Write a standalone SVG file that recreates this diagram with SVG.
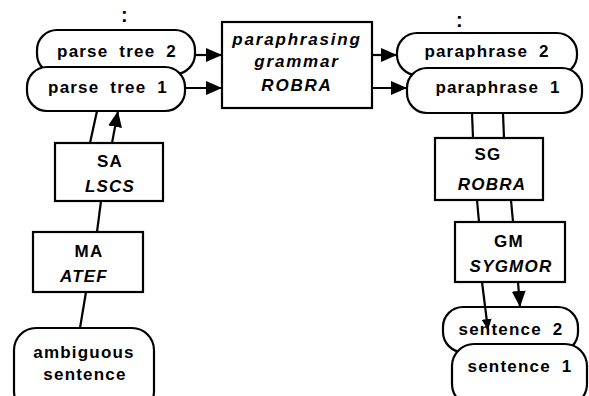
<svg xmlns="http://www.w3.org/2000/svg" width="589" height="396" viewBox="0 0 589 396">
<defs>
<style>
.box{fill:#fff;stroke:#000;stroke-width:2.2}
.t{font-family:"Liberation Sans",Arial,sans-serif;font-weight:bold;font-size:17px;letter-spacing:1.2px;word-spacing:5px;fill:#000;text-anchor:middle}
.i{font-style:italic}
.c{stroke:#000;stroke-width:2.2;fill:none}
</style>
<marker id="ah" viewBox="0 0 16 14" refX="16" refY="7" markerWidth="16" markerHeight="14" markerUnits="userSpaceOnUse" orient="auto"><path d="M0,0 L16,7 L0,14 z" fill="#000"/></marker>
<marker id="ahs" viewBox="0 0 11 10" refX="11" refY="5" markerWidth="11" markerHeight="10" markerUnits="userSpaceOnUse" orient="auto"><path d="M0,0 L11,5 L0,10 z" fill="#000"/></marker>
</defs>
<rect width="589" height="396" fill="#fff"/>
<text class="t" x="125" y="22" style="font-size:20px">:</text>
<text class="t" x="460" y="27" style="font-size:20px">:</text>
<g id="parse-tree-2"><rect class="box" x="37" y="30" width="158" height="44" rx="20"/><text class="t" x="117" y="57">parse tree 2</text></g>
<g id="parse-tree-1"><rect class="box" x="27" y="67" width="158" height="44" rx="20"/><text class="t" x="108" y="93">parse tree 1</text></g>
<g id="paraphrasing-grammar"><rect class="box" x="222" y="22" width="150" height="86"/>
<text class="t i" x="297" y="45" style="letter-spacing:1.8px">paraphrasing</text>
<text class="t i" x="297" y="67" style="letter-spacing:1.8px">grammar</text>
<text class="t i" x="297" y="91" style="letter-spacing:1.8px">ROBRA</text></g>
<g id="paraphrase-2"><rect class="box" x="397" y="33" width="180" height="42" rx="20"/><text class="t" x="487" y="57">paraphrase 2</text></g>
<g id="paraphrase-1"><rect class="box" x="407" y="68" width="175" height="45" rx="20"/><text class="t" x="498" y="93">paraphrase 1</text></g>
<g id="SA"><rect class="box" x="55" y="143" width="108" height="58"/><text class="t" x="110" y="167">SA</text><text class="t i" x="110" y="192">LSCS</text></g>
<g id="MA"><rect class="box" x="33" y="232" width="110" height="60"/><text class="t" x="89" y="257">MA</text><text class="t i" x="84" y="282">ATEF</text></g>
<g id="ambiguous-sentence"><rect class="box" x="14" y="328" width="140" height="85" rx="22"/><text class="t" x="84" y="358">ambiguous</text><text class="t" x="85" y="380">sentence</text></g>
<g id="SG"><rect class="box" x="435" y="138" width="108" height="62"/><text class="t" x="488" y="160">SG</text><text class="t i" x="492" y="190">ROBRA</text></g>
<g id="GM"><rect class="box" x="455" y="222" width="110" height="60"/><text class="t" x="509" y="247">GM</text><text class="t i" x="511" y="272">SYGMOR</text></g>
<g id="sentence-2"><rect class="box" x="443" y="307" width="135" height="45" rx="20"/><text class="t" x="511" y="335">sentence 2</text></g>
<g id="sentence-1"><rect class="box" x="452" y="344" width="135" height="62" rx="22"/><text class="t" x="520" y="372">sentence 1</text></g>
<g id="connectors">
<line class="c" x1="195" y1="55" x2="222" y2="55" marker-end="url(#ah)"/>
<line class="c" x1="185" y1="88" x2="222" y2="88" marker-end="url(#ah)"/>
<line class="c" x1="372" y1="55" x2="397" y2="55" marker-end="url(#ah)"/>
<line class="c" x1="372" y1="88" x2="407" y2="88" marker-end="url(#ah)"/>
<line class="c" x1="90" y1="143" x2="97" y2="111"/>
<line class="c" x1="112" y1="143" x2="118" y2="111" marker-end="url(#ah)"/>
<line class="c" x1="101" y1="201" x2="97" y2="232"/>
<line class="c" x1="86" y1="292" x2="80" y2="328"/>
<line class="c" x1="472" y1="113" x2="473" y2="138"/>
<line class="c" x1="503" y1="113" x2="504" y2="138"/>
<line class="c" x1="477" y1="200" x2="479" y2="222"/>
<line class="c" x1="511" y1="200" x2="513" y2="222"/>
<line class="c" x1="482" y1="282" x2="488" y2="330" marker-end="url(#ahs)"/>
<line class="c" x1="518" y1="282" x2="520" y2="307" marker-end="url(#ah)"/>
</g>
</svg>
